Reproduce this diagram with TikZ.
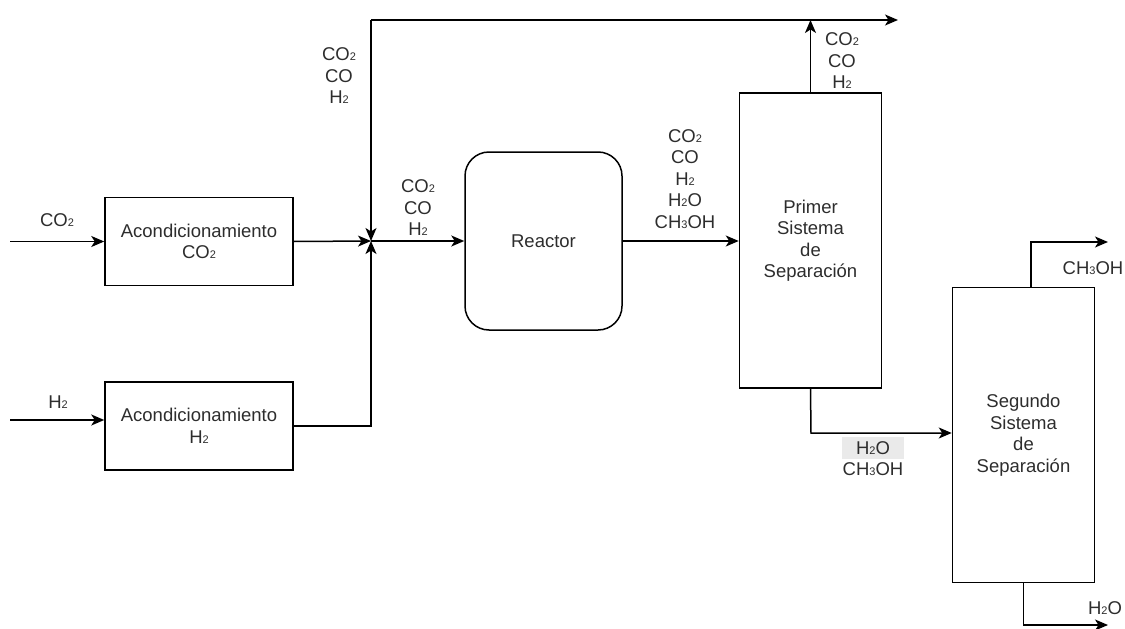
\documentclass[tikz,border=0pt]{standalone}
\usepackage{fontspec}
\setmainfont{Liberation Sans}
\usetikzlibrary{arrows.meta, positioning}
\definecolor{labelgray}{RGB}{45,45,45}
\definecolor{hlgray}{RGB}{234,234,234}
\newcommand{\lblfont}{\fontsize{18.5}{21.5}\selectfont}
\newcommand{\sbs}[1]{{\fontsize{11}{11}\selectfont #1}}

\tikzset{
  unitbox/.style={draw, line width=1.5pt, minimum width=188pt, minimum height=88pt,
                  align=center, font=\lblfont, text=labelgray},
  sepbox/.style={draw, line width=1.5pt, minimum width=142pt, minimum height=295pt,
                 align=center, font=\lblfont, text=labelgray},
  flow/.style={line width=1.5pt, -{Stealth[length=13pt, width=11pt, inset=3.5pt]}},
  pipe/.style={line width=1.5pt},
  stream/.style={inner sep=0pt, align=center, font=\lblfont, text=labelgray},
}

\begin{document}
\begin{tikzpicture}[x=1pt, y=-1pt]
    \useasboundingbox (0,0) rectangle (1125,629);

    % equipos
    \node[unitbox] (acco) at (199,241.5) {Acondicionamiento\\CO\sbs{2}};
    \node[unitbox] (ach) at (199,426) {Acondicionamiento\\H\sbs{2}};
    \node[draw, line width=1.5pt, rounded corners=24pt, minimum width=157pt,
          minimum height=178pt, font=\lblfont, text=labelgray] (reactor) at (543.5,241) {Reactor};
    \node[sepbox] (sepuno) at (810.5,240.5) {Primer\\Sistema\\de\\Separación};
    \node[sepbox] (sepdos) at (1023.5,435) {Segundo\\Sistema\\de\\Separación};

    % puntos de las corrientes
    \coordinate (coin) at (10,241.5);
    \coordinate (hin) at (10,420);
    \coordinate (mix) at (371,241);
    \coordinate (recycle) at (371,20);
    \coordinate (purge) at (898,20);
    \coordinate (sepunobot) at (811,433);
    \coordinate (sepdostop) at (1031,242);
    \coordinate (metout) at (1108,242);
    \coordinate (sepdosbot) at (1023.5,625);
    \coordinate (waterout) at (1108,625);

    % corrientes
    \draw[flow] (coin) -- (acco.west);
    \draw[flow] (hin) -- (hin -| ach.west);
    \draw[flow] (acco.east) -- (mix);
    \draw[flow] (ach.east) -- (ach.east -| mix) -- (mix);
    \draw[flow] (recycle) -- (mix);
    \draw[flow] (recycle) -- (purge);
    \draw[flow] (mix) -- (mix -| reactor.west);
    \draw[flow] (reactor.east |- mix) -- (mix -| sepuno.west);
    \draw[flow] (sepuno.north) -- (sepuno.north |- recycle);
    \draw[flow] (sepuno.south) -- (sepunobot) -- (sepunobot -| sepdos.west);
    \draw[flow] (sepdostop |- sepdos.north) -- (sepdostop) -- (metout);
    \draw[flow] (sepdos.south) -- (sepdosbot) -- (waterout);

    % etiquetas
    \node[stream] (lblco) at (57,220) {CO\sbs{2}};
    \node[stream] (lblh) at (58,402) {H\sbs{2}};
    \node[stream] (lblrec) at (339,76) {CO\sbs{2}\\CO\\H\sbs{2}};
    \node[stream] (lblfeed) at (418,208) {CO\sbs{2}\\CO\\H\sbs{2}};
    \node[stream] (lblout) at (685,179) {CO\sbs{2}\\CO\\H\sbs{2}\\H\sbs{2}O\\CH\sbs{3}OH};
    \node[stream] (lblgas) at (842,61) {CO\sbs{2}\\CO\\H\sbs{2}};
    \node[stream, fill=hlgray, minimum width=62pt, minimum height=22pt] (lblliq) at (873,448) {H\sbs{2}O};
    \node[stream] (lblliqb) at (873,469.5) {CH\sbs{3}OH};
    \node[stream] (lblmet) at (1093,268) {CH\sbs{3}OH};
    \node[stream] (lblwater) at (1105,608) {H\sbs{2}O};
\end{tikzpicture}
\end{document}
